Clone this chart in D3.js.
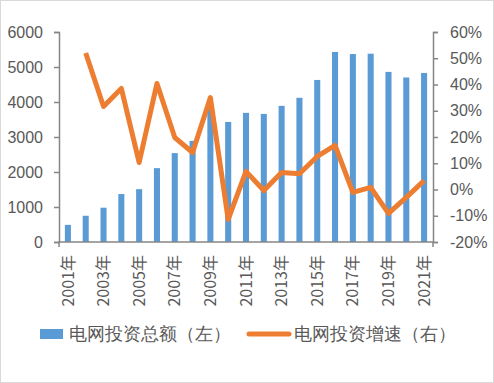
<!DOCTYPE html>
<html>
<head>
<meta charset="utf-8">
<script src="https://cdn.jsdelivr.net/npm/d3@7"></script>
<style>
body { margin: 0; background: #fff; }
text { font-family: "Liberation Sans", Arial, sans-serif; fill: #595959; }
.cjk { font-family: "Noto Sans CJK SC", sans-serif; }
</style>
</head>
<body>
<div id="vis"></div>
<script>
var years = ["2001","2002","2003","2004","2005","2006","2007","2008","2009","2010","2011",
    "2012","2013","2014","2015","2016","2017","2018","2019","2020","2021"];
var invest = [490,750,980,1370,1510,2110,2540,2890,3800,3430,3690,
    3660,3890,4120,4630,5430,5370,5380,4860,4700,4830];
var growth = [null,52.0,31.6,38.5,10.3,40.4,19.8,14.1,35.0,-11.4,6.9,
    -0.4,6.5,6.0,12.6,16.8,-1.1,0.8,-9.1,-3.0,3.4];
var leftTicks = [0,1000,2000,3000,4000,5000,6000];
var rightTicks = [-20,-10,0,10,20,30,40,50,60];
var legendLabels = ["电网投资总额（左）", "电网投资增速（右）"];

var W = 494, H = 383;
var margin = { top: 32, right: 61, bottom: 141, left: 59 };
var width = W - margin.left - margin.right,
    height = H - margin.top - margin.bottom;

var root = d3.select("#vis").append("svg")
    .attr("width", W).attr("height", H);

root.append("rect")
    .attr("x", 0.5).attr("y", 0.5)
    .attr("width", W - 1).attr("height", H - 1)
    .attr("fill", "#fff").attr("stroke", "#d9d9d9");

var svg = root.append("g")
    .attr("transform", "translate(" + margin.left + "," + margin.top + ")");

var x = d3.scaleBand().domain(years).range([0, width]).paddingInner(0.66).paddingOuter(0.33);
var yL = d3.scaleLinear().domain([0, 6000]).range([height, 0]);
var yR = d3.scaleLinear().domain([-20, 60]).range([height, 0]);

// bars
svg.selectAll(".bar")
    .data(invest)
    .enter().append("rect")
    .attr("class", "bar")
    .attr("x", (d, i) => x(years[i]))
    .attr("width", x.bandwidth())
    .attr("y", d => yL(d))
    .attr("height", d => height - yL(d))
    .attr("fill", "#5b9bd5");

// axes
var axisColor = "#868686";
var gL = svg.append("g")
    .call(d3.axisLeft(yL).tickValues(leftTicks).tickSize(5).tickPadding(11).tickFormat(d3.format("d")));
var gR = svg.append("g")
    .attr("transform", "translate(" + width + ",0)")
    .call(d3.axisRight(yR).tickValues(rightTicks).tickSize(5).tickPadding(12).tickFormat(d => d + "%"));
[gL, gR].forEach(g => {
    g.select(".domain").attr("stroke", axisColor).attr("stroke-width", 1.5);
    g.selectAll(".tick line").attr("stroke", axisColor).attr("stroke-width", 1.5);
    g.selectAll("text").attr("font-size", 16).attr("fill", "#595959")
        .attr("font-family", "'Liberation Sans', Arial, sans-serif");
});

var gX = svg.append("g")
    .attr("transform", "translate(0," + height + ")");
gX.append("path")
    .attr("d", "M0,5V0H" + width + "V5")
    .attr("fill", "none").attr("stroke", axisColor).attr("stroke-width", 1.5);
gX.selectAll(".xl")
    .data(years.filter((d, i) => i % 2 === 0))
    .enter().append("text")
    .attr("class", "cjk")
    .attr("transform", d => "translate(" + (x(d) + x.bandwidth() / 2) + ",13) rotate(-90)")
    .attr("text-anchor", "end")
    .attr("dy", "0.35em")
    .attr("font-size", 16)
    .text(d => d + "年");

// line
var line = d3.line()
    .defined(d => d !== null)
    .x((d, i) => x(years[i]) + x.bandwidth() / 2)
    .y(d => yR(d));
svg.append("path")
    .datum(growth)
    .attr("d", line)
    .attr("fill", "none")
    .attr("stroke", "#ed7d31")
    .attr("stroke-width", 5)
    .attr("stroke-linejoin", "round");

// legend
var lg = root.append("g").attr("class", "cjk");
lg.append("rect")
    .attr("x", 40).attr("y", 329).attr("width", 23).attr("height", 10)
    .attr("fill", "#5b9bd5");
lg.append("text")
    .attr("x", 69).attr("y", 334).attr("dy", "0.35em")
    .attr("font-size", 18)
    .text(legendLabels[0]);
lg.append("line")
    .attr("x1", 249).attr("x2", 289).attr("y1", 334).attr("y2", 334)
    .attr("stroke", "#ed7d31").attr("stroke-width", 5).attr("stroke-linecap", "round");
lg.append("text")
    .attr("x", 294).attr("y", 334).attr("dy", "0.35em")
    .attr("font-size", 18)
    .text(legendLabels[1]);
</script>
</body>
</html>
